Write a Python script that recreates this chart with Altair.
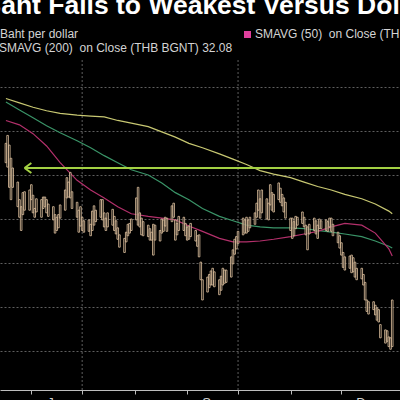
import altair as alt
import pandas as pd

title_text = "Baht Falls to Weakest Versus Dollar Since 2017"
legend_line1 = "Baht per dollar"
legend_line2 = "SMAVG (200)\u00a0 on Close (THB BGNT) 32.08"
legend_line3 = "SMAVG (50)\u00a0 on Close (THB BGNT) 32.42"

dates = pd.bdate_range("2021-05-17", "2021-12-31").strftime("%Y-%m-%d").tolist()

bar_min = [31.14, 31.05, 31.16, 31.31, 31.42, 31.58, 31.78, 31.86, 31.70, 31.69,
           31.67, 31.61, 31.73, 31.88, 31.77, 31.78, 31.75, 31.75, 31.78, 31.83,
           31.86, 31.95, 31.98, 31.95, 31.84, 31.67, 31.53, 31.58, 31.47, 31.69,
           31.81, 31.90, 31.86, 31.98, 32.02, 32.01, 32.06, 31.91, 31.85, 31.90,
           31.78, 31.78, 31.93, 31.99, 31.93, 31.89, 31.97, 32.02, 32.10, 32.18,
           32.22, 32.15, 32.06, 32.05, 32.00, 31.76, 31.64, 31.93, 31.99, 32.03,
           32.07, 32.11, 32.15, 32.06, 32.07, 32.13, 32.00, 32.01, 31.98, 31.99,
           31.85, 31.82, 32.01, 32.05, 31.97, 31.98, 32.05, 32.09, 32.08, 32.05,
           32.13, 32.19, 32.18, 32.49, 32.69, 32.66, 32.63, 32.59, 32.56, 32.60,
           32.69, 32.65, 32.56, 32.58, 32.58, 32.43, 32.35, 32.23, 32.20, 32.14,
           31.99, 32.01, 31.98, 32.01, 31.98, 31.93, 31.82, 31.67, 31.77, 31.67,
           31.77, 31.82, 31.61, 31.70, 31.72, 31.59, 31.65, 31.72, 31.76, 31.81,
           31.99, 31.99, 32.03, 31.97, 31.98, 31.92, 31.98, 32.07, 32.09, 32.06,
           31.99, 32.02, 32.07, 32.00, 32.02, 32.01, 32.03, 31.99, 31.99, 32.06,
           32.15, 32.19, 32.27, 32.38, 32.43, 32.42, 32.41, 32.44, 32.49, 32.56,
           32.56, 32.63, 32.72, 32.92, 32.94, 32.94, 32.98, 33.01, 33.03, 33.20,
           33.26, 33.27, 33.34, 33.35, 32.92]

bar_max = [31.36, 31.41, 31.64, 31.78, 31.64, 31.86, 31.98, 32.13, 31.95, 31.90,
           31.90, 31.78, 31.93, 31.98, 31.92, 31.98, 31.88, 31.86, 31.93, 31.97,
           32.01, 32.16, 32.13, 32.10, 31.99, 31.90, 31.76, 31.75, 31.76, 31.88,
           31.98, 32.15, 32.08, 32.13, 32.15, 32.14, 32.19, 32.13, 32.07, 32.03,
           31.98, 32.01, 32.09, 32.13, 32.09, 32.07, 32.13, 32.17, 32.23, 32.32,
           32.38, 32.26, 32.19, 32.16, 32.13, 32.01, 32.07, 32.09, 32.18, 32.19,
           32.20, 32.24, 32.24, 32.41, 32.24, 32.25, 32.16, 32.14, 32.08, 32.14,
           32.03, 31.98, 32.24, 32.18, 32.13, 32.13, 32.19, 32.24, 32.23, 32.20,
           32.25, 32.31, 32.43, 32.69, 32.92, 32.83, 32.78, 32.75, 32.75, 32.77,
           32.86, 32.81, 32.75, 32.73, 32.72, 32.66, 32.51, 32.40, 32.34, 32.28,
           32.18, 32.16, 32.16, 32.14, 32.10, 32.06, 31.98, 31.90, 31.99, 31.93,
           32.00, 32.01, 31.84, 31.90, 31.92, 31.78, 31.81, 31.85, 31.92, 31.99,
           32.13, 32.22, 32.19, 32.11, 32.07, 32.05, 32.09, 32.18, 32.35, 32.17,
           32.13, 32.17, 32.22, 32.11, 32.11, 32.13, 32.14, 32.09, 32.14, 32.19,
           32.27, 32.33, 32.41, 32.55, 32.58, 32.56, 32.61, 32.60, 32.66, 32.69,
           32.68, 32.75, 32.92, 33.05, 33.08, 33.03, 33.09, 33.15, 33.17, 33.35,
           33.41, 33.39, 33.45, 33.48, 33.45]

ma_idx = [0, 6, 12, 18, 24, 30, 36, 42, 48, 54, 60, 66, 72, 78, 84, 90, 96,
          102, 108, 114, 120, 126, 132, 138, 144, 150, 156, 162, 164]
sma200 = [30.63, 30.68, 30.73, 30.77, 30.80, 30.82, 30.83, 30.84, 30.88, 30.91,
          30.95, 31.01, 31.07, 31.14, 31.19, 31.26, 31.32, 31.38, 31.45, 31.49,
          31.53, 31.58, 31.63, 31.67, 31.72, 31.77, 31.83, 31.91, 31.94]
sma100 = [30.67, 30.76, 30.85, 30.94, 31.02, 31.11, 31.19, 31.28, 31.36, 31.44,
          31.50, 31.59, 31.70, 31.78, 31.88, 31.97, 32.02, 32.07, 32.09, 32.10,
          32.10, 32.11, 32.13, 32.15, 32.17, 32.20, 32.25, 32.31, 32.33]
sma50 = [30.88, 30.93, 31.03, 31.17, 31.36, 31.56, 31.67, 31.76, 31.86, 31.94,
         31.97, 31.99, 32.01, 32.08, 32.14, 32.22, 32.26, 32.26, 32.25, 32.23,
         32.20, 32.17, 32.14, 32.09, 32.05, 32.07, 32.16, 32.34, 32.42]
series_names = ["SMAVG (200)", "SMAVG (100)", "SMAVG (50)"]
series_colors = ["#c8c872", "#3a9468", "#b3306b"]

arrow_level = 31.42
arrow_start = "2021-05-28"
arrow_end = "2022-01-20"
vgrid_dates = ["2021-07-01", "2021-10-01"]
y_grid = [30.5, 31.0, 31.5, 32.0, 32.5, 33.0, 33.5]
tick_months = [6, 7, 8, 9, 10, 11, 12]

bars_df = pd.DataFrame({"date": dates, "lo": bar_min, "hi": bar_max})
ma_dates = [dates[i] for i in ma_idx]
ma_df = pd.DataFrame({
    "date": ma_dates * 3,
    "value": sma200 + sma100 + sma50,
    "series": [series_names[0]] * len(ma_idx) + [series_names[1]] * len(ma_idx) + [series_names[2]] * len(ma_idx),
})
arrow_df = pd.DataFrame({"start": [arrow_start], "end": [arrow_end], "level": [arrow_level]})
vgrid_df = pd.DataFrame({"date": vgrid_dates})

x_scale = alt.Scale(type="utc", domain=[
    alt.DateTime(year=2021, month=5, date=16, hours=11, utc=True),
    alt.DateTime(year=2022, month=1, date=1, hours=15, utc=True)])
y_scale = alt.Scale(domain=[30.193, 33.943], reverse=True, zero=False, nice=False)

x_axis = alt.Axis(
    values=[alt.DateTime(year=2021, month=m, date=1, utc=True) for m in tick_months],
    grid=False, domain=True, domainColor="#bdbdbd", domainWidth=1,
    ticks=True, tickColor="#bdbdbd", tickSize=4,
    labelExpr="utcmonth(datum.value) == 5 ? 'Jun' : utcmonth(datum.value) == 8 ? 'Sep' : utcmonth(datum.value) == 11 ? 'Dec' : ''",
    labelOffset=26, labelPadding=2, labelColor="#d0d0d0", labelFontSize=13,
    labelFont="Liberation Sans", labelOverlap=False, labelBound=False, labelFlush=False,
    labelAlign="center", title=None)
y_axis = alt.Axis(values=y_grid, grid=True, gridColor="#5e5e5e", gridDash=[2, 2], gridWidth=1,
                  labels=False, ticks=False, domain=False, title=None)

def X(field):
    return alt.X(field, scale=x_scale, axis=x_axis)

def Y(field):
    return alt.Y(field, scale=y_scale, axis=y_axis)

vgrid = alt.Chart(vgrid_df).mark_rule(color="#5e5e5e", strokeDash=[2, 2], strokeWidth=1).encode(
    x=X("date:T"))

lines = alt.Chart(ma_df).mark_line(strokeWidth=1.2, clip=True).encode(
    x=X("date:T"), y=Y("value:Q"),
    color=alt.Color("series:N", scale=alt.Scale(domain=series_names, range=series_colors), legend=None),
    detail="series:N")

bars = alt.Chart(bars_df).mark_bar(size=1.6, fill="#000000", fillOpacity=0.6, stroke="#e4c6a3",
                                   strokeWidth=0.8).encode(
    x=X("date:T"), y=Y("lo:Q"), y2="hi:Q")

arrow_line = alt.Chart(arrow_df).mark_rule(color="#a3d143", strokeWidth=2, clip=True).encode(
    x=X("start:T"), x2="end:T", y=Y("level:Q"))
arrow_head = alt.Chart(arrow_df).mark_point(
    shape="M0,0L1.7,-1.25M0,0L1.7,1.25", size=64, filled=False, stroke="#a3d143",
    strokeWidth=2, opacity=1).encode(x=X("start:T"), y=Y("level:Q"))

title_mark = alt.Chart(pd.DataFrame({"t": [title_text]})).mark_text(
    align="left", baseline="alphabetic", font="Liberation Sans", fontWeight="bold",
    fontSize=26.5, color="#ffffff").encode(x=alt.value(-18), y=alt.value(-46), text="t:N")

leg1 = alt.Chart(pd.DataFrame({"t": [legend_line1]})).mark_text(
    align="left", baseline="alphabetic", font="Liberation Sans", fontSize=12, color="#d4d4d4"
).encode(x=alt.value(0), y=alt.value(-22), text="t:N")
leg2 = alt.Chart(pd.DataFrame({"t": [legend_line2]})).mark_text(
    align="left", baseline="alphabetic", font="Liberation Sans", fontSize=12, color="#d4d4d4"
).encode(x=alt.value(-1), y=alt.value(-8), text="t:N")
leg3 = alt.Chart(pd.DataFrame({"t": [legend_line3]})).mark_text(
    align="left", baseline="alphabetic", font="Liberation Sans", fontSize=12, color="#d4d4d4"
).encode(x=alt.value(255), y=alt.value(-22), text="t:N")
swatch = alt.Chart(pd.DataFrame({"t": ["s"]})).mark_square(size=49, color="#de3f9c", opacity=1).encode(
    x=alt.value(247.5), y=alt.value(-25.5))

chart = alt.layer(vgrid, lines, bars, arrow_line, arrow_head, title_mark, leg1, leg2, leg3, swatch).properties(
    width=400, height=330, background="#000000",
    padding={"left": 0, "top": 60, "right": 0, "bottom": 10},
    autosize=alt.AutoSizeParams(type="none"),
).configure_view(stroke=None)

chart.save("out.html", embed_options={"renderer": "svg", "actions": False})
